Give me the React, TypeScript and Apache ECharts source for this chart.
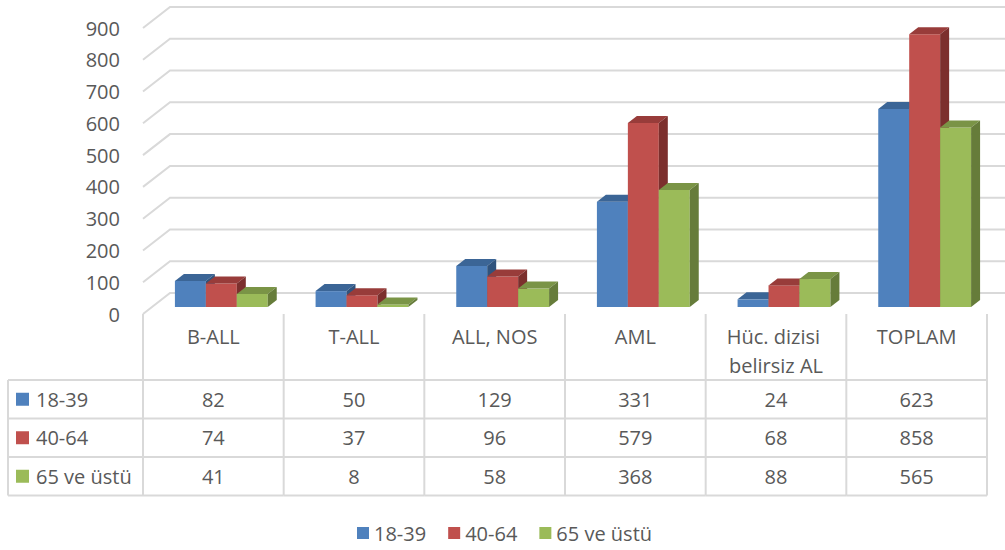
import React, { useEffect, useRef } from "react";
import * as echarts from "echarts";

const categories = ["B-ALL", "T-ALL", "ALL, NOS", "AML", "Hüc. dizisi belirsiz AL", "TOPLAM"];
const seriesNames = ["18-39", "40-64", "65 ve üstü"];
const age18to39 = [82, 50, 129, 331, 24, 623];
const age40to64 = [74, 37, 96, 579, 68, 858];
const age65plus = [41, 8, 58, 368, 88, 565];
const yTicks = [0, 100, 200, 300, 400, 500, 600, 700, 800, 900];

const seriesValues = [age18to39, age40to64, age65plus];

const COLORS = ["#4F81BD", "#C0504D", "#9BBB59"];
const TOP_COLORS = ["#3B6596", "#983C3A", "#7A9446"];
const SIDE_COLORS = ["#30537D", "#7C2F2D", "#667C3A"];
const TEXT = "#595959";
const LINE = "#D9D9D9";
const FONT = "'Open Sans', sans-serif";
const FS = 20;

// layout
const GRID_LEFT = 143;
const GRID_RIGHT = 18;
const GRID_TOP = 28;
const GRID_BOTTOM = 236;
const DEPTH_X = 27;
const DEPTH_Y = 21;
const BAR_SHIFT_X = 8;
const BAR_SHIFT_Y = 7;
const BAR_DX = 9;
const BAR_DY = 7;
const BAR_W_RATIO = 0.22;
const TABLE_LEFT = 8;
const HEADER_H = 66;
const ROW_H = 38.5;

export default function App() {
  const ref = useRef<HTMLDivElement>(null);

  useEffect(() => {
    if (!ref.current) return;
    const chart = echarts.init(ref.current, undefined, { renderer: "svg" });

    const barSeries = seriesNames.map((name, i) => ({
      type: "custom",
      name,
      z: 5,
      itemStyle: { color: COLORS[i] },
      data: seriesValues[i].map((v, k) => [k, v]),
      encode: { x: 0, y: 1 },
      renderItem: (params: any, api: any) => {
        const idx = api.value(0);
        const v = api.value(1);
        const base = api.coord([idx, 0]);
        const top = api.coord([idx, v]);
        const bw = api.size([1, 0])[0];
        const w = bw * BAR_W_RATIO;
        const x0 = base[0] + BAR_SHIFT_X + (i - 1.5) * w;
        const yb = base[1] - BAR_SHIFT_Y;
        const yt = top[1] - BAR_SHIFT_Y;
        return {
          type: "group",
          children: [
            {
              type: "rect",
              shape: { x: x0, y: yt, width: w, height: yb - yt },
              style: { fill: COLORS[i] },
            },
            {
              type: "polygon",
              shape: {
                points: [
                  [x0, yt],
                  [x0 + w, yt],
                  [x0 + w + BAR_DX, yt - BAR_DY],
                  [x0 + BAR_DX, yt - BAR_DY],
                ],
              },
              style: { fill: TOP_COLORS[i] },
            },
            {
              type: "polygon",
              shape: {
                points: [
                  [x0 + w, yt],
                  [x0 + w + BAR_DX, yt - BAR_DY],
                  [x0 + w + BAR_DX, yb - BAR_DY],
                  [x0 + w, yb],
                ],
              },
              style: { fill: SIDE_COLORS[i] },
            },
          ],
        };
      },
    }));

    const gridSeries = {
      type: "custom",
      name: "grid",
      z: 1,
      silent: true,
      data: yTicks.map((v) => [0, v]),
      encode: { x: 0, y: 1 },
      renderItem: (params: any, api: any) => {
        const p = api.coord([0, api.value(1)]);
        const bw = api.size([1, 0])[0];
        const left = p[0] - bw / 2;
        return {
          type: "polyline",
          shape: {
            points: [
              [left, p[1]],
              [left + DEPTH_X, p[1] - DEPTH_Y],
              [api.getWidth() + 10, p[1] - DEPTH_Y],
            ],
          },
          style: { stroke: LINE, lineWidth: 2, fill: "none" },
        };
      },
    };

    const tableSeries = {
      type: "custom",
      name: "table",
      z: 2,
      silent: true,
      data: categories.map((_, k) => [k, age18to39[k], age40to64[k], age65plus[k]]),
      encode: { x: 0 },
      renderItem: (params: any, api: any) => {
        const idx = api.value(0);
        const base = api.coord([idx, 0]);
        const bw = api.size([1, 0])[0];
        const left = base[0] - bw / 2;
        const right = base[0] + bw / 2;
        const y0 = base[1];
        const rowTop = y0 + HEADER_H;
        const bottom = rowTop + ROW_H * 3;
        const children: any[] = [];
        const line = (x1: number, y1: number, x2: number, y2: number) =>
          children.push({
            type: "line",
            shape: { x1, y1, x2, y2 },
            style: { stroke: LINE, lineWidth: 2 },
          });
        line(left, y0, left, bottom);
        if (idx === categories.length - 1) line(right, y0, right, bottom);
        for (let r = 0; r <= 3; r++) line(left, rowTop + r * ROW_H, right, rowTop + r * ROW_H);
        for (let r = 0; r < 3; r++) {
          children.push({
            type: "text",
            style: {
              text: String(api.value(r + 1)),
              x: base[0],
              y: rowTop + r * ROW_H + ROW_H / 2,
              align: "center",
              verticalAlign: "middle",
              fill: TEXT,
              font: `${FS}px ${FONT}`,
            },
          });
        }
        if (idx === 0) {
          line(TABLE_LEFT, rowTop, TABLE_LEFT, bottom);
          for (let r = 0; r <= 3; r++) line(TABLE_LEFT, rowTop + r * ROW_H, left, rowTop + r * ROW_H);
          for (let r = 0; r < 3; r++) {
            const cy = rowTop + r * ROW_H + ROW_H / 2;
            children.push({
              type: "rect",
              shape: { x: TABLE_LEFT + 8, y: cy - 6.5, width: 13, height: 13 },
              style: { fill: COLORS[r] },
            });
            children.push({
              type: "text",
              style: {
                text: seriesNames[r],
                x: TABLE_LEFT + 28,
                y: cy,
                align: "left",
                verticalAlign: "middle",
                fill: TEXT,
                font: `${FS}px ${FONT}`,
              },
            });
          }
        }
        return { type: "group", children };
      },
    };

    chart.setOption({
      animation: false,
      color: COLORS,
      textStyle: { fontFamily: FONT },
      grid: {
        left: GRID_LEFT,
        right: GRID_RIGHT,
        top: GRID_TOP,
        bottom: GRID_BOTTOM,
        containLabel: false,
      },
      legend: {
        data: seriesNames,
        bottom: 2,
        left: 352,
        icon: "rect",
        itemWidth: 12,
        itemHeight: 12,
        itemGap: 22,
        textStyle: { color: TEXT, fontSize: FS, fontFamily: FONT },
      },
      xAxis: {
        type: "category",
        data: categories,
        boundaryGap: true,
        axisLine: { show: false },
        axisTick: { show: false },
        splitLine: { show: false },
        axisLabel: {
          interval: 0,
          margin: 8,
          color: TEXT,
          fontSize: FS,
          fontFamily: FONT,
          lineHeight: 29,
          width: 125,
          overflow: "break",
          verticalAlign: "top",
        },
      },
      yAxis: {
        type: "value",
        min: 0,
        max: 900,
        interval: 100,
        axisLine: { show: false },
        axisTick: { show: false },
        splitLine: { show: false },
        axisLabel: {
          margin: 23,
          color: TEXT,
          fontSize: FS,
          fontFamily: FONT,
          padding: [4, 0, 0, 0],
        },
      },
      series: [...barSeries, gridSeries, tableSeries],
    });

    return () => chart.dispose();
  }, []);

  return (
    <div
      ref={ref}
      style={{ position: "absolute", left: 0, top: 0, width: 1005, height: 550, background: "#fff" }}
    />
  );
}
